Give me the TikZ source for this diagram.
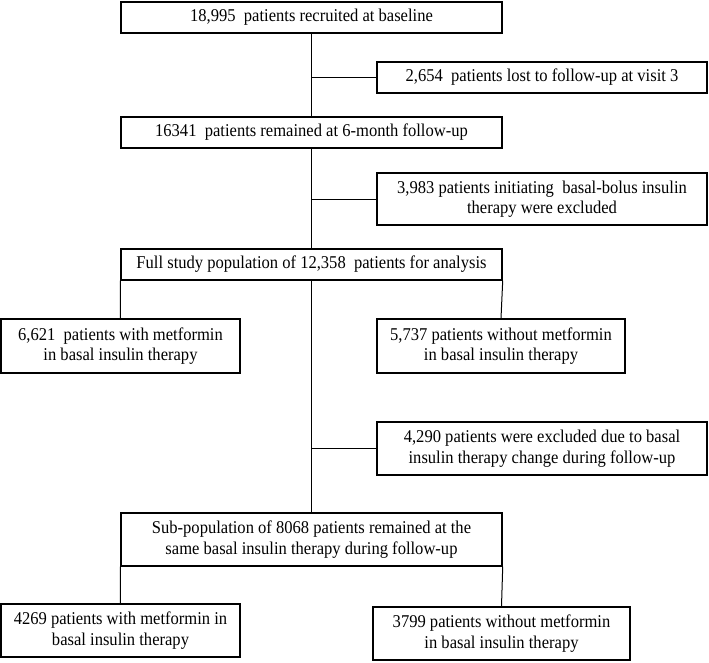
\documentclass[tikz,border=0pt]{standalone}
\usepackage{fontspec}
\setmainfont{Liberation Serif}[FakeStretch=0.92]
\usetikzlibrary{positioning, calc}

\begin{document}
\begin{tikzpicture}[
    x=1pt, y=-1pt,
    % Reusable styles for boxes and connectors
    flow box/.style={draw=black, line width=1.4pt, fill=white, align=center,
        inner sep=0pt, font=\fontsize{18}{20.5}\selectfont},
    main box/.style={flow box, minimum width=381pt, minimum height=31pt},
    side box/.style={flow box, minimum width=330pt},
    arm box/.style={flow box, minimum height=54pt},
    link/.style={draw=black, line width=1pt}
]
    \useasboundingbox (0,0) rectangle (709,662);

    % -------------------------
    % Main trunk of the flow
    % -------------------------
    \node[main box] (base) at (311.5, 17.5) {18,995\ \ patients recruited at baseline};
    \node[side box, minimum height=31pt] (lost) at (542, 77.5) {2,654\ \ patients lost to follow-up at visit 3};
    \node[main box] (remain) at (311.5, 132.5) {16341\ \ patients remained at 6-month follow-up};
    \node[side box, minimum height=52pt] (bolus) at (542, 199) {3,983 patients initiating\ \ basal-bolus insulin\\therapy were excluded};
    \node[main box] (full) at (311.5, 264.5) {Full study population of 12,358\ \ patients for analysis};

    % Split by metformin use (full population)
    \node[arm box, minimum width=239pt] (metA) at (120.5, 346) {6,621\ \ patients with metformin\\in basal insulin therapy};
    \node[arm box, minimum width=248pt] (nometA) at (501, 346) {5,737 patients without metformin\\in basal insulin therapy};

    % -------------------------
    % Sub-population branch
    % -------------------------
    \node[side box, minimum height=53pt] (change) at (542, 448.5) {4,290 patients were excluded due to basal\\insulin therapy change during follow-up};
    \node[main box, minimum height=53pt] (sub) at (311.5, 539.5) {Sub-population of 8068 patients remained at the\\same basal insulin therapy during follow-up};
    \node[arm box, minimum width=239pt, minimum height=53pt] (metB) at (120.5, 630.5) {4269 patients with metformin in\\basal insulin therapy};
    \node[arm box, minimum width=257pt, minimum height=53pt] (nometB) at (501.5, 633.5) {3799 patients without metformin\\in basal insulin therapy};

    % Connectors (trunk + side exits)
    \draw[link] (base.south) -- (remain.north);
    \draw[link] (lost.west) -- (lost.west -| base.south);
    \draw[link] (remain.south) -- (full.north);
    \draw[link] (bolus.west) -- (bolus.west -| remain.south);
    \draw[link] (full.south west) -- (metA.north);
    \draw[link] (full.south east) -- (nometA.north);
    \draw[link] (full.south) -- (sub.north);
    \draw[link] (change.west) -- (change.west -| full.south);
    \draw[link] (sub.south west) -- (metB.north);
    \draw[link] (sub.south east) -- (nometB.north);

\end{tikzpicture}
\end{document}
